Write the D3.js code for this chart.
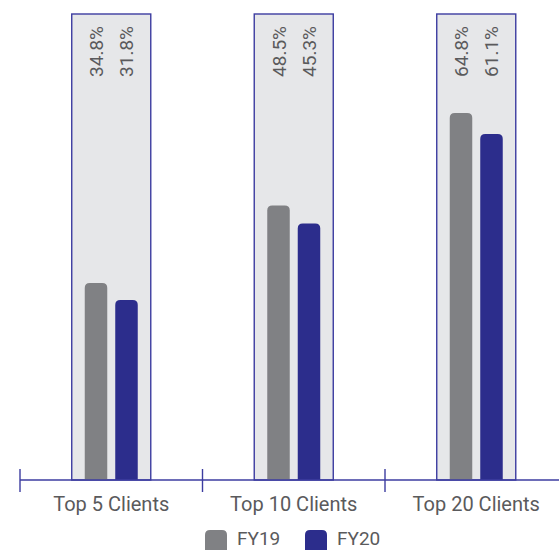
<!DOCTYPE html>
<html>
<head>
<meta charset="utf-8">
<script src="https://cdn.jsdelivr.net/npm/d3@7"></script>
<style>
  html, body { margin: 0; padding: 0; background: #ffffff; }
  svg { display: block; }
  text { font-family: Roboto, "DejaVu Sans", sans-serif; font-weight: 400; fill: #5a5a5c; }
</style>
</head>
<body>
<svg id="chart" width="559" height="550"></svg>
<script>
// Share of revenue from top clients
const categories = ["Top 5 Clients", "Top 10 Clients", "Top 20 Clients"];
const series = ["FY19", "FY20"];
const fy19 = [34.8, 48.5, 64.8];
const fy20 = [31.8, 45.3, 61.1];
const valueLabels = [["34.8%", "31.8%"], ["48.5%", "45.3%"], ["64.8%", "61.1%"]];
const yMax = 82.3;

const colors = { FY19: "#808184", FY20: "#2c2d8c" };
const navyLine = "#3c3ca0";
const panelFill = "#e6e7e9";

const svg = d3.select("#chart");

const x = d3.scaleBand().domain(categories).range([20, 567.5]).padding(0);
const y = d3.scaleLinear().domain([0, yMax]).range([480, 14]);
const inner = d3.scaleBand().domain(series).range([-26.5, 26.5]).paddingInner(0.262);

const panelW = x.bandwidth() * 0.433;
const rows = categories.map((c, i) => ({ cat: c, values: [fy19[i], fy20[i]], labels: valueLabels[i] }));

// background panels
svg.append("g").selectAll("rect").data(rows).join("rect")
  .attr("x", d => x(d.cat) + x.bandwidth() / 2 - panelW / 2)
  .attr("y", y(yMax))
  .attr("width", panelW)
  .attr("height", y(0) - y(yMax))
  .attr("fill", panelFill)
  .attr("stroke", navyLine)
  .attr("stroke-width", 1.4);

// bars with rounded tops
function topRounded(x0, y0, w, h, r) {
  r = Math.min(r, w / 2, h);
  return `M${x0},${y0 + h}V${y0 + r}Q${x0},${y0} ${x0 + r},${y0}H${x0 + w - r}Q${x0 + w},${y0} ${x0 + w},${y0 + r}V${y0 + h}Z`;
}

const groups = svg.append("g").selectAll("g").data(rows).join("g")
  .attr("transform", d => `translate(${x(d.cat) + x.bandwidth() / 2},0)`);

groups.selectAll("path").data(d => series.map((s, j) => ({ s, v: d.values[j] }))).join("path")
  .attr("d", d => topRounded(inner(d.s), y(d.v), inner.bandwidth(), y(0) - y(d.v), 5))
  .attr("fill", d => colors[d.s]);

// rotated value labels at the top of each panel
groups.selectAll("text").data(d => series.map((s, j) => ({ s, t: d.labels[j] }))).join("text")
  .attr("transform", d => `translate(${inner(d.s) + inner.bandwidth() / 2 + 7},26) rotate(-90)`)
  .attr("text-anchor", "end")
  .attr("font-size", 19)
  .text(d => d.t);

// category axis
const axis = svg.append("g").attr("transform", `translate(0,${y(0)})`);
axis.append("line")
  .attr("x1", 20).attr("x2", 567.5)
  .attr("stroke", navyLine).attr("stroke-width", 1.4);
axis.selectAll("line.tick").data(categories).join("line")
  .attr("class", "tick")
  .attr("x1", d => x(d)).attr("x2", d => x(d))
  .attr("y1", -11).attr("y2", 12)
  .attr("stroke", navyLine).attr("stroke-width", 1.4);
axis.selectAll("text").data(categories).join("text")
  .attr("x", d => x(d) + x.bandwidth() / 2)
  .attr("y", 31)
  .attr("text-anchor", "middle")
  .attr("font-size", 20)
  .text(d => d);

// legend
const legend = svg.append("g").attr("transform", "translate(205,530)");
const items = legend.selectAll("g").data(series).join("g")
  .attr("transform", (d, i) => `translate(${i * 100},0)`);
items.append("path")
  .attr("d", topRounded(0, 0, 22, 24, 5))
  .attr("fill", d => colors[d]);
items.append("text")
  .attr("x", 32).attr("y", 15)
  .attr("font-size", 19)
  .text(d => d);
</script>
</body>
</html>
